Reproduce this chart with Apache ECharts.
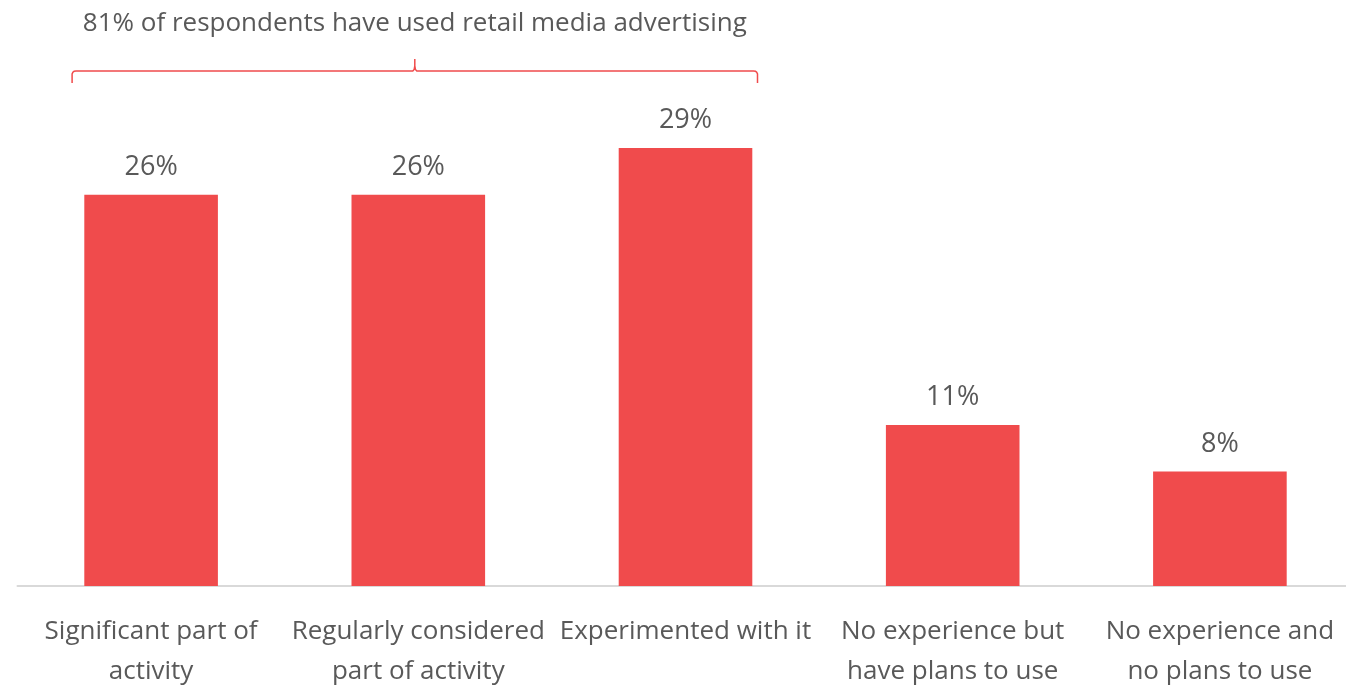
<!DOCTYPE html>
<html>
<head>
<meta charset="utf-8">
<script src="https://cdn.jsdelivr.net/npm/echarts@6/dist/echarts.min.js"></script>
<style>
  html, body { margin: 0; padding: 0; background: #fff; }
  #chart { width: 1346px; height: 688px; }
</style>
</head>
<body>
<div id="chart"></div>
<script>
// categories (x axis)
var categories = [
  "Significant part of\nactivity",
  "Regularly considered\npart of activity",
  "Experimented with it",
  "No experience but\nhave plans to use",
  "No experience and\nno plans to use"
];
// share of respondents, %
var shares = [26, 26, 29.1, 10.7, 7.6];
var bracketText = "81% of respondents have used retail media advertising";
// bracket spans the first three categories
var bracketFrom = 0, bracketTo = 2;

var red = "#F04B4C";
var gray = "#595959";
var font = "Open Sans";

var chart = echarts.init(document.getElementById("chart"));

chart.setOption({
  animation: false,
  textStyle: { fontFamily: font },
  grid: {
    left: 17.5, width: 1336, top: 134.5, bottom: 102,
    containLabel: false, outerBoundsMode: "none"
  },
  xAxis: {
    type: "category",
    data: categories,
    axisLine: { lineStyle: { color: "#D9D9D9", width: 2 } },
    axisTick: { show: false },
    axisLabel: {
      color: gray, fontSize: 26, lineHeight: 40, margin: 26, interval: 0,
      fontFamily: font
    }
  },
  yAxis: { type: "value", min: 0, max: 30, show: false, splitLine: { show: false } },
  series: [{
    type: "bar",
    data: shares,
    barWidth: "50%",
    itemStyle: { color: red },
    label: {
      show: true, position: "top", distance: 14,
      color: gray, fontSize: 27, fontFamily: font,
      formatter: function (p) { return Math.round(p.value) + "%"; }
    }
  }]
});

// bracket + caption, placed from the axis scale
function drawBracket() {
  var half = 134 / 2;
  var x0 = chart.convertToPixel({ xAxisIndex: 0 }, bracketFrom) - half - 12;
  var x1 = chart.convertToPixel({ xAxisIndex: 0 }, bracketTo) + half + 5;
  var xm = (x0 + x1) / 2;
  var yl = 71, yEnd = 83, yPeak = 59;
  var pts = [
    [x0, yEnd], [x0, yl + 3], [x0 + 0.8, yl + 1.2], [x0 + 2, yl + 0.3], [x0 + 4, yl],
    [xm - 2, yl], [xm - 0.6, yl - 1.5], [xm, yl - 5], [xm, yPeak],
    [xm, yl - 5], [xm + 0.6, yl - 1.5], [xm + 2, yl],
    [x1 - 4, yl], [x1 - 2, yl + 0.3], [x1 - 0.8, yl + 1.2], [x1, yl + 3], [x1, yEnd]
  ];
  chart.setOption({
    graphic: [
      {
        type: "polyline",
        shape: { points: pts },
        style: { fill: null, stroke: red, lineWidth: 1.5 }
      },
      {
        type: "text",
        x: xm, y: 24,
        style: {
          text: bracketText, fill: gray, fontSize: 26, fontFamily: font,
          textAlign: "center", textVerticalAlign: "middle"
        }
      }
    ]
  });
}
drawBracket();
</script>
</body>
</html>
